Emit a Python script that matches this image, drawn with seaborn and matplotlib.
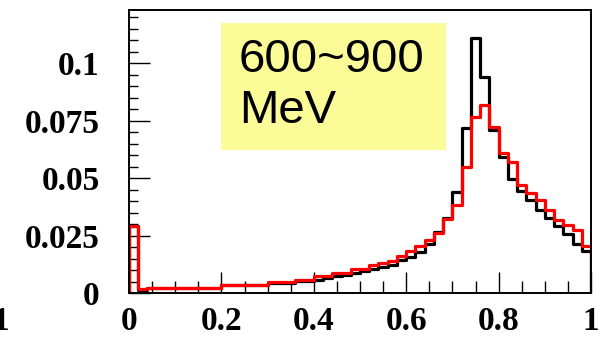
import numpy as np
import pandas as pd
import matplotlib
matplotlib.use("Agg")
import matplotlib.pyplot as plt
import seaborn as sns
from matplotlib.patches import Rectangle
from matplotlib.ticker import FixedLocator, FixedFormatter, MultipleLocator

# Histogram binning: 50 equal bins over [0, 1]
x_range = (0.0, 1.0)
n_bins = 50

# Normalised bin contents, one value per bin
black_counts = [
    0.0290, 0.0015, 0.0021, 0.0021, 0.0021, 0.0021, 0.0021, 0.0021, 0.0021, 0.0021,
    0.0034, 0.0034, 0.0034, 0.0034, 0.0034, 0.0044, 0.0044, 0.0044, 0.0052, 0.0052,
    0.0058, 0.0064, 0.0072, 0.0080, 0.0089, 0.0097, 0.0106, 0.0113, 0.0121, 0.0142,
    0.0155, 0.0180, 0.0212, 0.0265, 0.0327, 0.0438, 0.0717, 0.1110, 0.0940, 0.0710,
    0.0590, 0.0496, 0.0442, 0.0406, 0.0362, 0.0326, 0.0290, 0.0255, 0.0215, 0.0182,
]
red_counts = [
    0.0290, 0.0016, 0.0022, 0.0022, 0.0022, 0.0022, 0.0022, 0.0022, 0.0022, 0.0022,
    0.0036, 0.0036, 0.0036, 0.0036, 0.0036, 0.0046, 0.0046, 0.0046, 0.0058, 0.0058,
    0.0072, 0.0072, 0.0087, 0.0087, 0.0106, 0.0106, 0.0122, 0.0130, 0.0138, 0.0159,
    0.0181, 0.0203, 0.0232, 0.0262, 0.0322, 0.0384, 0.0550, 0.0768, 0.0819, 0.0724,
    0.0611, 0.0572, 0.0471, 0.0435, 0.0406, 0.0362, 0.0319, 0.0297, 0.0275, 0.0206,
]

x_ticks = [0.0, 0.2, 0.4, 0.6, 0.8, 1.0]
x_tick_labels = ["0", "0.2", "0.4", "0.6", "0.8", "1"]
y_ticks = [0.0, 0.025, 0.05, 0.075, 0.1]
y_tick_labels = ["0", "0.025", "0.05", "0.075", "0.1"]
y_max = 0.1232

box_text = "600~900\nMeV"
edge_label = "1"

sns.set_style("white")
plt.rcParams["font.family"] = ["Liberation Serif", "DejaVu Serif"]
plt.rcParams["font.weight"] = "bold"

edges = np.linspace(x_range[0], x_range[1], n_bins + 1)
centers = 0.5 * (edges[:-1] + edges[1:])
width = edges[1] - edges[0]

hist_black = pd.DataFrame({"x": centers, "w": black_counts})
hist_red = pd.DataFrame({"x": centers, "w": red_counts})

fig = plt.figure(figsize=(6.04, 3.39), dpi=100)
ax = fig.add_axes([129 / 604, 1 - 293 / 339, 462 / 604, 283 / 339])

# one empty bin on each side so the outline drops to zero at both ends
for frame, colour in ((hist_black, "black"), (hist_red, "#ff0000")):
    sns.histplot(data=frame, x="x", weights="w", binwidth=width,
                 binrange=(x_range[0] - width, x_range[1] + width),
                 element="step", fill=False, color=colour, linewidth=2.3,
                 ax=ax)

ax.set_xlim(*x_range)
ax.set_ylim(0, y_max)
ax.set_xlabel("")
ax.set_ylabel("")

ax.xaxis.set_major_locator(FixedLocator(x_ticks))
ax.xaxis.set_major_formatter(FixedFormatter(x_tick_labels))
ax.yaxis.set_major_locator(FixedLocator(y_ticks))
ax.yaxis.set_major_formatter(FixedFormatter(y_tick_labels))
ax.xaxis.set_minor_locator(MultipleLocator(0.05))
ax.yaxis.set_minor_locator(MultipleLocator(0.005))

ax.tick_params(which="both", bottom=True, left=True, top=False, right=False,
               direction="in", color="black", width=1.0)
ax.tick_params(axis="x", which="major", length=15, pad=9, labelsize=24,
               labelcolor="black")
ax.tick_params(axis="x", which="minor", length=8.3)
ax.tick_params(axis="y", which="major", length=14.9, pad=21, labelsize=24,
               labelcolor="black")
ax.tick_params(axis="y", which="minor", length=6.5)

for side in ("left", "right", "top", "bottom"):
    ax.spines[side].set_visible(True)
    ax.spines[side].set_color("black")
    ax.spines[side].set_linewidth(1.4)

# energy-range label in a pale yellow box
ax.add_patch(Rectangle((0.199, 0.505), 0.487, 0.449, transform=ax.transAxes,
                       facecolor="#fbfb98", edgecolor="none", zorder=3))
ax.text(0.238, 0.90, box_text, transform=ax.transAxes, ha="left", va="top",
        fontsize=34, family=["Liberation Sans", "DejaVu Sans"],
        fontweight="normal", linespacing=1.2, color="black", zorder=4)

# neighbouring panel's last x tick label, clipped by the figure edge
fig.text(0.5 / 604, 1 - 321 / 339, edge_label, ha="center", va="center",
         fontsize=24, color="black")

fig.savefig("out.png", dpi=100, facecolor="white")
